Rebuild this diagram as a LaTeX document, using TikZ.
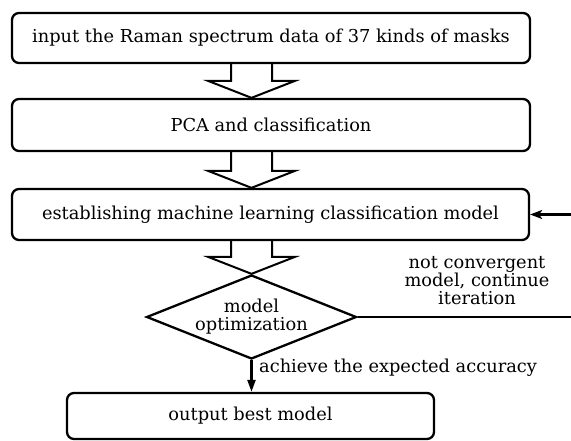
\documentclass[tikz,border=0pt]{standalone}
\usepackage{fontspec}
\setmainfont{DejaVu Serif}
\usetikzlibrary{shapes.geometric,arrows.meta,calc}
\tikzset{
  txt/.style={font=\fontsize{17.8}{18}\selectfont},
  stepbox/.style={draw, line width=2.3pt, rounded corners=7pt, inner sep=0pt, txt},
  decision/.style={draw, shape=diamond, line width=2.3pt, aspect=2.5, inner sep=0pt, minimum width=210pt, minimum height=84pt, align=center, txt},
  hollow/.style={draw, line width=2pt, line join=miter},
  flow/.style={draw, line width=2.3pt},
  lbl/.style={txt, inner sep=0pt, align=center},
}
\newcommand{\hollowarrow}[2]{%
  \draw[hollow] ([xshift=-20.5pt]#1) -- ([xshift=-20.5pt,yshift=17pt]#2)
    -- ([xshift=-43.5pt,yshift=17pt]#2) -- (#2)
    -- ([xshift=43.5pt,yshift=17pt]#2) -- ([xshift=20.5pt,yshift=17pt]#2)
    -- ([xshift=20.5pt]#1);}
\begin{document}
\begin{tikzpicture}[x=1pt,y=-1pt]
\useasboundingbox (0,0) rectangle (571,441);
\node[stepbox, minimum width=518pt, minimum height=50pt] (b1) at (271,38) {input the Raman spectrum data of 37 kinds of masks};
\node[stepbox, minimum width=518pt, minimum height=52pt] (b2) at (271,125) {PCA and classification};
\node[stepbox, minimum width=517pt, minimum height=51pt] (b3) at (270.5,214.5) {establishing machine learning classification model};
\node[decision] (d) at (251.5,317) {model\\optimization};
\node[stepbox, minimum width=367pt, minimum height=46pt] (b4) at (250.5,416) {output best model};
\coordinate (a1s) at (b1.south -| d.north);
\coordinate (a1e) at (b2.north -| d.north);
\coordinate (a2s) at (b2.south -| d.north);
\coordinate (a2e) at (b3.north -| d.north);
\coordinate (a3s) at (b3.south -| d.north);
\hollowarrow{a1s}{a1e}
\hollowarrow{a2s}{a2e}
\hollowarrow{a3s}{d.north}
\coordinate (rc) at (576,317);
\draw[flow, -{Stealth[length=12pt,width=9pt,inset=3pt]}] (d.east) -- (rc) |- (b3.east);
\draw[flow, -{Triangle[length=12pt,width=8pt]}] (d.south) -- (d.south |- b4.north);
\node[lbl] (l1) at (477,281) {not convergent\\model, continue\\iteration};
\node[lbl, anchor=west] (l2) at (259,368) {achieve the expected accuracy};
\end{tikzpicture}
\end{document}
